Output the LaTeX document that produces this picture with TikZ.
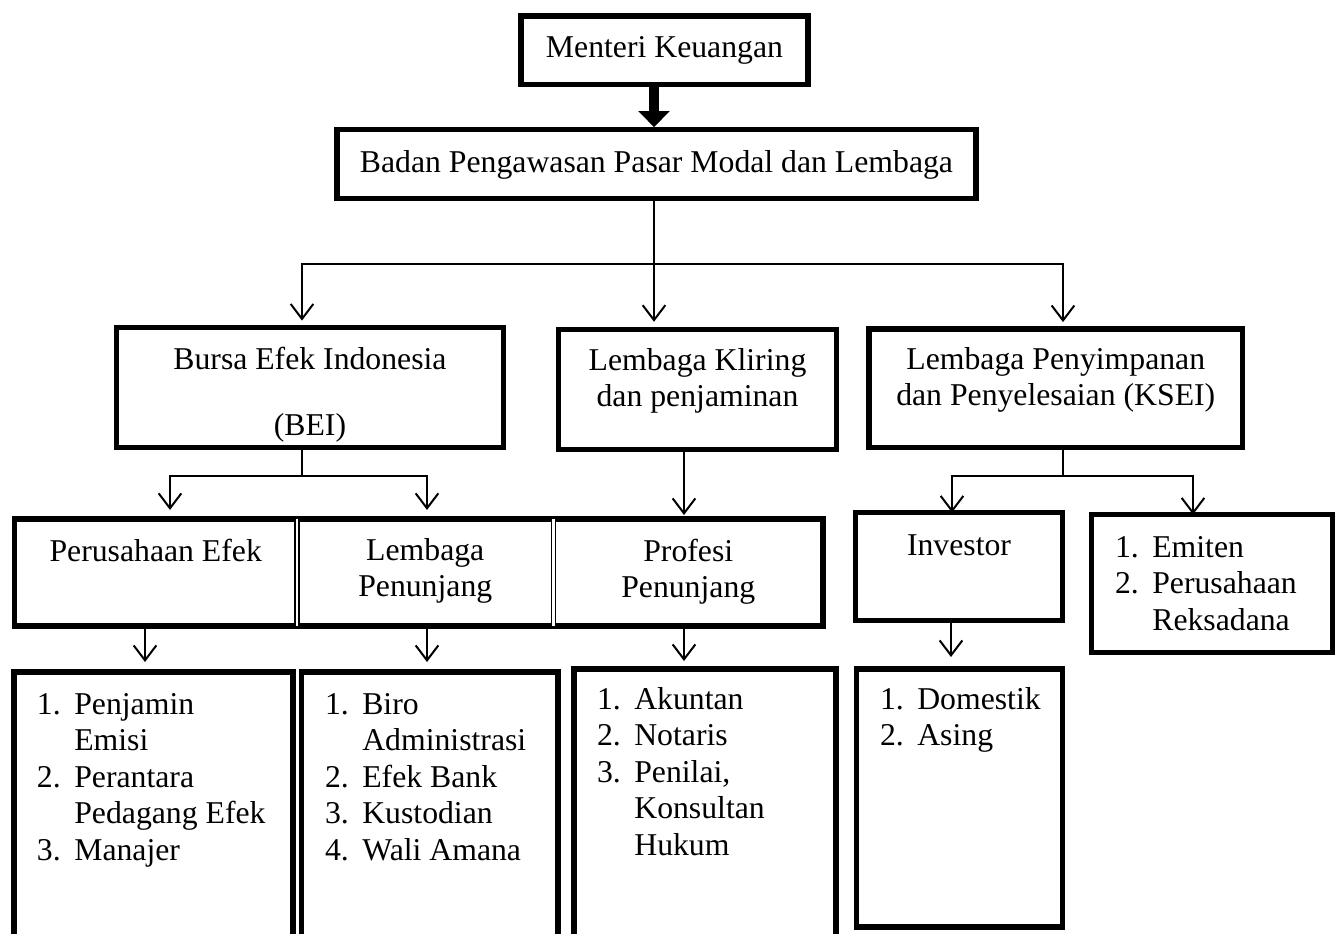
\documentclass[tikz,border=0pt]{standalone}
\usepackage{fontspec}
\setmainfont{Liberation Serif}
\usetikzlibrary{arrows.meta,fit,calc}
\newdimen\mypx \mypx=0.375pt
\newcommand\ctext[2]{\raisebox{#1\mypx}[0pt][0pt]{\begin{tabular}[t]{@{}c@{}}#2\end{tabular}}}
\newcommand\lst[1]{\begin{tabular}[t]{@{}p{14pt}@{}l@{}}#1\end{tabular}}
\begin{document}
\begin{tikzpicture}[x=0.375pt,y=-0.375pt,
  every node/.style={font=\fontsize{11.9}{13.7}\selectfont},
  box/.style={draw, line width=1.9pt, inner sep=0pt, outer sep=0pt},
  cell/.style={inner sep=0pt, outer sep=0pt},
  listtext/.style={anchor=base west, inner sep=0pt, outer sep=0pt},
  conn/.style={line width=0.75pt},
  arr/.style={conn, -{Straight Barb[length=5.6pt,width=8.5pt]}},
  fat/.style={line width=3.75pt, -{Triangle[length=6pt,width=11.5pt]}}]
\fill[white] (0,0) rectangle (1339,933);
\useasboundingbox (0,0) rectangle (1339,933);

% top boxes
\node[box, fit={(521,16) (808,84.5)}] (menteri) {\ctext{-7.5}{Menteri Keuangan}};
\node[box, fit={(337,129.5) (976,198.5)}] (badan) {\ctext{-8}{Badan Pengawasan Pasar Modal dan Lembaga}};

% second level
\node[box, fit={(116.5,327.5) (503.5,447.5)}] (bei) {\ctext{18.5}{Bursa Efek Indonesia\\[11.4pt] (BEI)}};
\node[box, fit={(558.5,329.5) (836.5,449.5)}] (kli) {\ctext{19.5}{Lembaga Kliring\\ dan penjaminan}};
\node[box, fit={(869,329) (1242.5,447.5)}] (ksei) {\ctext{19.25}{Lembaga Penyimpanan\\ dan Penyelesaian (KSEI)}};

% third level table
\node[cell, fit={(14.5,519) (297,626)}] (c1) {\ctext{11.5}{Perusahaan Efek}};
\node[cell, fit={(297,519) (553.5,626)}] (c2) {\ctext{12.5}{Lembaga\\ Penunjang}};
\node[cell, fit={(553.5,519) (823,626)}] (c3) {\ctext{11.5}{Profesi\\ Penunjang}};
\draw[line width=1.9pt] (c1.north west) rectangle (c3.south east);
\draw[double, double distance=1.1pt, line width=0.45pt] (c1.north east) -- (c1.south east);
\draw[double, double distance=1.1pt, line width=0.45pt] (c2.north east) -- (c2.south east);

\node[box, fit={(855.5,512.5) (1062.5,620.5)}] (inv) {\ctext{11.5}{Investor}};
\node[box, fit={(1091.5,514.5) (1332.5,652.5)}] (emi) {};
\node[listtext] (te) at (1115,557) {\lst{1.& Emiten\\ 2.& Perusahaan\\ & Reksadana}};

% bottom boxes
\node[box, fit={(14,672) (293,960)}] (b1) {};
\node[box, fit={(301.5,672) (558,960)}] (b2) {};
\node[box, fit={(574,669) (836,960)}] (b3) {};
\node[box, fit={(856.5,669) (1062.5,927)}] (b4) {};
\node[listtext] (t1) at (37,714) {\lst{1.& Penjamin\\ & Emisi\\ 2.& Perantara\\ & Pedagang Efek\\ 3.& Manajer}};
\node[listtext] (t2) at (325,714) {\lst{1.& Biro\\ & Administrasi\\ 2.& Efek Bank\\ 3.& Kustodian\\ 4.& Wali Amana}};
\node[listtext] (t3) at (597,709) {\lst{1.& Akuntan\\ 2.& Notaris\\ 3.& Penilai,\\ & Konsultan\\ & Hukum}};
\node[listtext] (t4) at (880,709) {\lst{1.& Domestik\\ 2.& Asing}};

% junction coordinates
\coordinate (j0) at (654,264);
\coordinate (jl) at (302,264);
\coordinate (jr) at (1063,264);
\coordinate (j1) at (302,476);
\coordinate (j1l) at (170,476);
\coordinate (j1r) at (427,476);
\coordinate (j2) at (1063,476);
\coordinate (j2l) at (952,476);
\coordinate (j2r) at (1193,476);
\coordinate (xa) at (145,0);
\coordinate (xb) at (427,0);
\coordinate (xc) at (684,0);
\coordinate (xd) at (951,0);

% connectors
\draw[fat, shorten >=0.9pt] (menteri.south -| j0) -- (badan.north -| j0);
\draw[conn] (j0 |- badan.south) -- (j0);
\draw[arr, shorten >=2.6pt] (j0) -- (jl) -- (jl |- bei.north);
\draw[arr, shorten >=2.9pt] (j0) -- (j0 |- kli.north);
\draw[arr, shorten >=2.6pt] (j0) -- (jr) -- (jr |- ksei.north);

\draw[conn] (j1 |- bei.south) -- (j1);
\draw[arr, shorten >=3.4pt] (j1) -- (j1l) -- (j1l |- c1.north);
\draw[arr, shorten >=3.4pt] (j1) -- (j1r) -- (j1r |- c2.north);
\draw[arr, shorten >=1.5pt] (kli.south -| xc) -- (c3.north -| xc);

\draw[conn] (j2 |- ksei.south) -- (j2);
\draw[arr] (j2) -- (j2l) -- (j2l |- inv.north);
\draw[arr] (j2) -- (j2r) -- (j2r |- emi.north);

\draw[arr, shorten >=3.75pt] (c1.south -| xa) -- (b1.north -| xa);
\draw[arr, shorten >=3.75pt] (c2.south -| xb) -- (b2.north -| xb);
\draw[arr, shorten >=3pt] (c3.south -| xc) -- (b3.north -| xc);
\draw[arr, shorten >=4.5pt] (inv.south -| xd) -- (b4.north -| xd);
\end{tikzpicture}
\end{document}
